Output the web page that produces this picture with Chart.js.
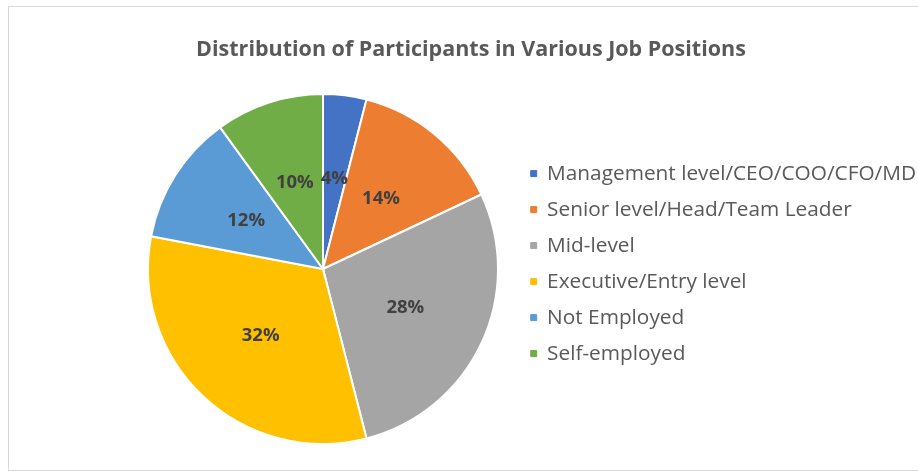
<!DOCTYPE html>
<html>
<head>
<meta charset="utf-8">
<script src="https://cdn.jsdelivr.net/npm/chart.js@4.4.0/dist/chart.umd.min.js"></script>
<style>
  html, body { margin: 0; padding: 0; background: #fff; }
  #wrap { position: relative; width: 918px; height: 471px; overflow: hidden; }
  #frame { position: absolute; left: 8px; top: 6px; width: 940px; height: 463px; border: 1px solid #d9d9d9; }
  #chart { position: absolute; left: 0; top: 0; }
</style>
</head>
<body>
<div id="wrap">
  <div id="frame"></div>
  <canvas id="chart" width="918" height="471"></canvas>
</div>
<script>
// Job positions and their share of participants (%)
const positions = [
    'Management level/CEO/COO/CFO/MD',
    'Senior level/Head/Team Leader',
    'Mid-level',
    'Executive/Entry level',
    'Not Employed',
    'Self-employed'
];
const shares = [4, 14, 28, 32, 12, 10];
const sliceColors = ['#4472C4', '#ED7D31', '#A5A5A5', '#FFC000', '#5B9BD5', '#70AD47'];
const chartTitle = 'Distribution of Participants in Various Job Positions';

const FONT = '"Open Sans"';

// Title drawn over the whole frame (Chart.js would centre it over the padded area only)
const frameTitle = {
    id: 'frameTitle',
    afterDraw(chart, args, opts) {
        const ctx = chart.ctx;
        ctx.save();
        ctx.font = opts.font;
        ctx.fillStyle = opts.color;
        ctx.textAlign = 'center';
        ctx.textBaseline = 'alphabetic';
        ctx.fillText(opts.text, opts.x, opts.y);
        ctx.restore();
    }
};

// Percentage inside each slice, a little past half the radius
const sliceLabels = {
    id: 'sliceLabels',
    afterDatasetsDraw(chart) {
        const ctx = chart.ctx;
        const meta = chart.getDatasetMeta(0);
        ctx.save();
        ctx.font = 'bold 18.5px ' + FONT;
        ctx.fillStyle = '#404040';
        ctx.textAlign = 'center';
        ctx.textBaseline = 'middle';
        meta.data.forEach((arc, i) => {
            const { x, y, startAngle, endAngle, outerRadius } = arc.getProps(['x', 'y', 'startAngle', 'endAngle', 'outerRadius']);
            const mid = (startAngle + endAngle) / 2;
            const r = outerRadius * 0.52;
            ctx.fillText(shares[i] + '%', x + Math.cos(mid) * r, y + Math.sin(mid) * r);
        });
        ctx.restore();
    }
};

new Chart(document.getElementById('chart').getContext('2d'), {
    type: 'pie',
    data: {
        labels: positions,
        datasets: [{
            data: shares,
            backgroundColor: sliceColors,
            borderColor: '#ffffff',
            borderWidth: 2,
            radius: 175,
            clip: false
        }]
    },
    options: {
        responsive: false,
        animation: false,
        layout: {
            // pie centred at (323, 269); legend column starts at the top of the padded area
            padding: { left: 130.5, right: 0, top: 148, bottom: 81 }
        },
        plugins: {
            frameTitle: {
                text: chartTitle,
                font: 'bold 21.5px ' + FONT,
                color: '#595959',
                x: 471,
                y: 56
            },
            title: { display: false },
            legend: {
                position: 'right',
                align: 'start',
                maxWidth: 402.5,
                labels: {
                    color: '#595959',
                    boxWidth: 6,
                    boxHeight: 6,
                    padding: 15.2,
                    font: { family: FONT, size: 20.8 },
                    generateLabels(chart) {
                        const items = Chart.overrides.doughnut.plugins.legend.labels.generateLabels(chart);
                        items.forEach(item => {
                            item.strokeStyle = item.fillStyle;
                            item.lineWidth = 1;
                        });
                        return items;
                    }
                }
            },
            tooltip: { enabled: false }
        }
    },
    plugins: [sliceLabels, frameTitle]
});
</script>
</body>
</html>
